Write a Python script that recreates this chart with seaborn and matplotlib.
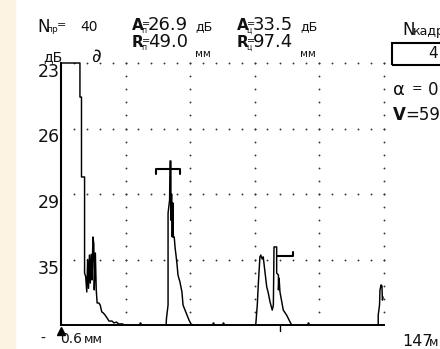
import numpy as np
import pandas as pd
import seaborn as sns
import matplotlib.pyplot as plt
from matplotlib import font_manager
from matplotlib.patches import Rectangle

echo1_mm = [0.6, 0.6, 9.2, 9.2, 9.9, 9.9, 11.3, 11.3, 11.8, 12.3, 12.7, 13.1, 13.5, 13.9,
            14.3, 14.7, 15.1, 15.5, 15.7, 16.2, 16.6, 17.0, 17.8, 18.4, 19.1, 19.8, 20.6,
            21.5, 22.4, 23.8, 24.6, 25.8, 26.8, 28.7]
echo1_amp = [0, 100, 100, 87, 87, 56.5, 56.5, 19.8, 18.5, 12.6, 25, 14, 26.7, 16,
             27, 17.2, 33.6, 31, 13.4, 27.5, 13.4, 8.4, 8.4, 7.6, 5.0, 4.6, 3.8,
             2.7, 1.5, 1.5, 0.8, 1.1, 0.4, 0.4]

echo2_mm = [48.3, 48.5, 49.2, 49.2, 49.9, 50.1, 50.5, 50.5, 50.8, 51.1, 51.4, 51.6, 52.0,
            52.4, 52.8, 53.3, 53.7, 54.6, 55.5, 56.0, 56.9, 57.8, 58.7, 59.6, 60.5]
echo2_amp = [0, 2.7, 7.6, 42.7, 47.7, 62.6, 62.6, 40, 50, 33.6, 46.6, 33.6, 33.6,
             29.4, 26.7, 22.9, 19.1, 16.4, 12.6, 7.6, 5.7, 3.8, 1.9, 0.4, 0]

echo3_mm = [89.0, 89.7, 90.2, 90.9, 91.3, 91.9, 92.4, 93.2, 94.0, 94.6, 95.5, 96.5, 97.0,
            97.3, 98.5, 98.5, 99.3, 99.3, 99.6, 100.0, 101.5, 103.0, 104.5, 105.3]
echo3_amp = [0, 7.6, 16.0, 26, 26.7, 25.2, 26, 20.2, 14.5, 12.6, 8.8, 5.7, 7.6,
             29.8, 29.8, 19.8, 19.1, 13.4, 17.9, 12.6, 5.7, 3.8, 1.3, 0]

echo4_mm = [144.6, 144.6, 145.2, 145.4, 145.9, 146.3, 146.5, 146.8]
echo4_amp = [0, 3.8, 7.6, 13.4, 15.3, 14.9, 9.5, 10.7]

noise_mm = [36.5, 69.6, 74.2, 112.7]
noise_amp = [0.8, 0.8, 0.8, 0.8]

gate1_mm = [43.7, 43.7, 54.4, 54.4]
gate1_amp = [57.6, 59.5, 59.5, 57.6]
gate2_mm = [98.5, 105.8, 105.8]
gate2_amp = [26.3, 26.3, 27.9]

y_ticks = [100, 75, 50, 25]
y_labels = ['23', '26', '29', '35']

x_min, x_max = 0.6, 147.0

sns.set_style("white")
installed = {f.name for f in font_manager.fontManager.ttflist}
narrow = 'Liberation Sans Narrow' if 'Liberation Sans Narrow' in installed else 'DejaVu Sans'
plt.rcParams['font.family'] = [narrow, 'DejaVu Sans']
k = 1.0 if narrow == 'DejaVu Sans' else 1.15   # la police étroite est plus petite

fig = plt.figure(figsize=(4.4, 3.49), dpi=100)
ax = fig.add_axes([61 / 440, 24 / 349, 322.5 / 440, 262 / 349])
ax.set_xlim(x_min, x_max)
ax.set_ylim(0, 100)

# bande crème à gauche
fig.patches.append(Rectangle((0, 0), 15 / 440, 1, transform=fig.transFigure,
                             color='#FCF3E3', zorder=-1))

# grille en pointillés (points)
div_x = (x_max - x_min) / 5
for i in range(1, 6):
    xc = x_min + i * div_x
    ax.scatter(np.full(20, xc), np.arange(5, 101, 5), s=1.8, color='#333333',
               linewidths=0, clip_on=False)
for yr in y_ticks:
    xr = x_min + np.arange(1, 26) * div_x / 5
    ax.scatter(xr, np.full(len(xr), yr), s=1.8, color='#333333',
               linewidths=0, clip_on=False)

# échos
for xs, ys in [(echo1_mm, echo1_amp), (echo2_mm, echo2_amp),
               (echo3_mm, echo3_amp), (echo4_mm, echo4_amp)]:
    df = pd.DataFrame({'mm': xs, 'amp': ys})
    sns.lineplot(data=df, x='mm', y='amp', sort=False, estimator=None,
                 color='black', lw=1.05, ax=ax, clip_on=False)

# portes
for xs, ys in [(gate1_mm, gate1_amp), (gate2_mm, gate2_amp)]:
    ax.plot(xs, ys, color='black', lw=1.5, clip_on=False)

ax.scatter(noise_mm, noise_amp, s=3, color='black', linewidths=0)

# marqueurs sous l'axe
ax.plot([x_min], [-2.2], marker='^', ms=6, color='black', clip_on=False)
ax.plot([100, 100], [-0.5, -2.2], color='black', lw=1, clip_on=False)

# axes
for side in ['top', 'right']:
    ax.spines[side].set_visible(False)
ax.spines['left'].set_linewidth(1.5)
ax.spines['bottom'].set_linewidth(1.4)
ax.spines['left'].set_color('black')
ax.spines['bottom'].set_color('black')
ax.set_xticks([])
ax.set_yticks(y_ticks, y_labels)
ax.tick_params(axis='y', length=0, pad=1, labelsize=12.5 * k, labelcolor='#111111')
for t in ax.get_yticklabels():
    t.set_va('top')
ax.set_xlabel('')
ax.set_ylabel('')


def put(px, py, s, size, weight='normal', va='baseline'):
    fig.text(px / 440, 1 - py / 349, s, fontsize=size * k, fontweight=weight,
             ha='left', va=va, color='#111111')


# en-tête
put(37, 32, 'N', 12)
put(46, 32, 'пр', 6.5)
put(57, 25, '=', 8, va='center')
put(80, 31, '40', 10)
put(43, 61, 'дБ', 10)
put(91, 62, '∂', 13.5)

for x0, sub, a_val, r_val in [(132, 'п', '26.9', '49.0'), (237, 'ц', '33.5', '97.4')]:
    put(x0, 30, 'A', 11, 'bold')
    put(x0 + 10, 24, '=', 7, va='center')
    put(x0 + 9, 33, sub, 5.5)
    put(x0 + 16, 30, a_val, 13)
    put(x0 + 63, 30, 'дБ', 9)
    put(x0, 47, 'R', 11, 'bold')
    put(x0 + 10, 41, '=', 7, va='center')
    put(x0 + 9, 50, sub, 5.5)
    put(x0 + 16, 47, r_val, 13)
    put(x0 + 63, 57, 'мм', 7.5)

put(402, 35, 'N', 12)
put(413, 35, 'кадр', 9)
fig.patches.append(Rectangle((392 / 440, 1 - 65 / 349), 53 / 440, 22 / 349,
                             transform=fig.transFigure, fill=False, lw=1.5,
                             edgecolor='black'))
put(428, 58, '4', 11)
put(393, 95, 'α', 13)
put(412, 89, '=', 9, va='center')
put(428, 95, '0', 12)
put(393, 120, 'V', 12, 'bold')
put(405, 120, '=590', 12)

# bas
put(40, 343, '-', 10)
put(60, 343, '0.6', 10)
put(84, 343, 'мм', 9)
put(402, 346, '147', 11.5)
put(429, 346, 'м', 9)

fig.savefig('out.png', dpi=100)
